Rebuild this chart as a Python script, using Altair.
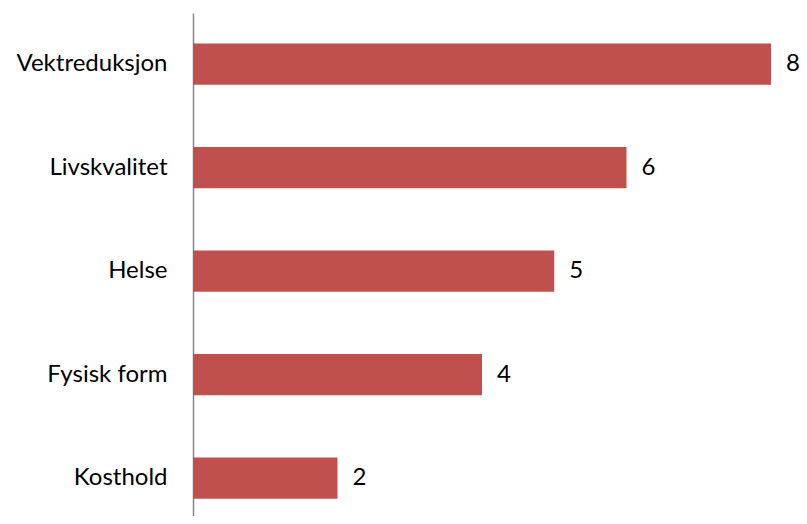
import altair as alt
import pandas as pd

categories = ["Vektreduksjon", "Livskvalitet", "Helse", "Fysisk form", "Kosthold"]
values = [8, 6, 5, 4, 2]

df = pd.DataFrame({"kategori": categories, "verdi": values})

FONT = "Lato"

y_enc = alt.Y(
    "kategori:N",
    sort=categories,
    title=None,
    scale=alt.Scale(paddingInner=0.6, paddingOuter=0.23, align=0.64),
    axis=alt.Axis(
        ticks=False,
        grid=False,
        labelPadding=26,
        labelFont=FONT,
        labelFontSize=24,
        labelColor="#000000",
        domainColor="#868686",
        domainWidth=1.5,
        labelLimit=300,
    ),
)
x_enc = alt.X("verdi:Q", scale=alt.Scale(domain=[0, 8]), axis=None)

bars = alt.Chart(df).mark_bar(color="#C0504D").encode(y=y_enc, x=x_enc)
text = alt.Chart(df).mark_text(
    align="left", baseline="middle", dx=15, font=FONT, fontSize=24, color="#000000"
).encode(y=y_enc, x=x_enc, text="verdi:Q")

chart = (
    alt.layer(bars, text)
    .properties(
        width=578,
        height=503,
        background="#ffffff",
        autosize=alt.AutoSizeParams(type="none"),
        padding={"left": 185, "top": 5, "right": 28, "bottom": 0},
    )
    .configure_view(stroke=None, strokeWidth=0)
    .configure_axis(grid=False)
)

chart.save("out.html", embed_options={"renderer": "svg", "actions": False})
